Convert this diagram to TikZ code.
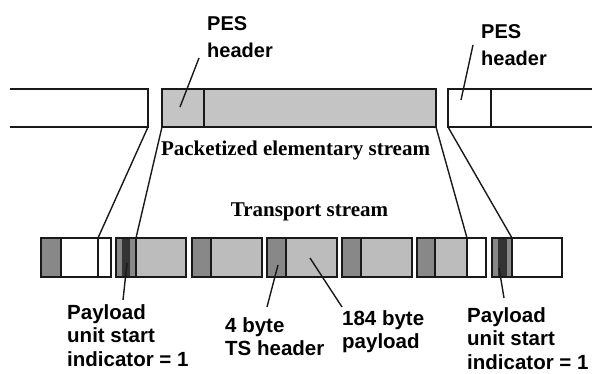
\documentclass[tikz,border=0pt]{standalone}
\usepackage{fontspec}
\setmainfont{Liberation Serif}
\newfontfamily\labfont{Liberation Sans}
\definecolor{pesgray}{HTML}{C4C4C4}
\definecolor{paygray}{HTML}{BCBCBC}
\definecolor{hdrgray}{HTML}{888888}
\definecolor{stripe}{HTML}{333333}
\tikzset{
  outl/.style={draw=black!90, line width=1.8pt},
  divl/.style={draw=black!90, line width=1.6pt},
  conn/.style={draw=black!90, line width=1.4pt},
  lead/.style={draw=black!90, line width=1.4pt},
  lab/.style={font=\labfont\bfseries\fontsize{20.5}{23.5}\selectfont, align=left, inner sep=0pt, anchor=north west},
  plab/.style={font=\labfont\bfseries\fontsize{20}{27}\selectfont, align=left, inner sep=0pt, anchor=north west},
  title/.style={font=\bfseries\fontsize{21}{23}\selectfont, inner sep=0pt, anchor=base}
}
\begin{document}
\begin{tikzpicture}[x=1pt,y=-1pt]
\useasboundingbox (0,0) rectangle (592,374);
% ---------- PES row ----------
\draw[outl] (10,89) -- (148,89) -- (148,127) -- (10,127);
\coordinate (pesLbr) at (148,127);
\fill[pesgray] (162,89) rectangle (436,127);
\draw[outl] (162,89) rectangle (436,127);
\draw[divl] (204,89) -- (204,127);
\coordinate (pesMbl) at (162,127);
\coordinate (pesMbr) at (436,127);
\coordinate (pesMhdr) at (180,107);
\draw[outl] (593,89) -- (448,89) -- (448,127) -- (593,127);
\draw[divl] (491,89) -- (491,127);
\coordinate (pesRbl) at (448,127);
\coordinate (pesRhdr) at (461,100);
% ---------- TS row ----------
\def\ya{238}\def\yb{277}
% packet 1
\fill[hdrgray] (41,\ya) rectangle (61,\yb);
\draw[divl] (61,\ya) -- (61,\yb);
\draw[divl] (98,\ya) -- (98,\yb);
\draw[outl] (41,\ya) rectangle (111,\yb);
\coordinate (p1div) at (98,\ya);
% packet 2
\fill[paygray] (116,\ya) rectangle (186,\yb);
\fill[hdrgray] (116,\ya) rectangle (136,\yb);
\fill[stripe] (122,\ya) rectangle (130,\yb);
\draw[divl] (136,\ya) -- (136,\yb);
\draw[outl] (116,\ya) rectangle (186,\yb);
\coordinate (p2hdr) at (136,\ya);
\coordinate (p2str) at (127,263);
% packets 3-5
\foreach \x/\n in {192/3,267/4,342/5}{
  \fill[paygray] (\x,\ya) rectangle ++(70,39);
  \fill[hdrgray] (\x,\ya) rectangle ++(19,39);
  \draw[divl] (\x+19,\ya) -- (\x+19,\yb);
  \draw[outl] (\x,\ya) rectangle ++(70,39);
}
\coordinate (p4hdr) at (278,265);
\coordinate (p4pay) at (310,258);
% packet 6
\fill[paygray] (417,\ya) rectangle (467,\yb);
\fill[hdrgray] (417,\ya) rectangle (435,\yb);
\draw[divl] (435,\ya) -- (435,\yb);
\draw[divl] (467,\ya) -- (467,\yb);
\draw[outl] (417,\ya) rectangle (486,\yb);
\coordinate (p6div) at (467,\ya);
% packet 7
\fill[hdrgray] (492,\ya) rectangle (512,\yb);
\fill[stripe] (498,\ya) rectangle (507,\yb);
\draw[divl] (512,\ya) -- (512,\yb);
\draw[outl] (492,\ya) rectangle (562,\yb);
\coordinate (p7hdr) at (512,\ya);
\coordinate (p7str) at (499,268);
% ---------- connectors ----------
\draw[conn] (pesLbr) -- (p1div);
\draw[conn] (pesMbl) -- (p2hdr);
\draw[conn] (pesMbr) -- (p6div);
\draw[conn] (pesRbl) -- (p7hdr);
% ---------- titles ----------
\node[title] (pestitle) at (295.5,156) {Packetized elementary stream};
\node[title] (tstitle) at (309.5,217) {Transport stream};
% ---------- labels ----------
\node[plab] (pesL) at (207,16) {PES\\header};
\node[plab] (pesR) at (481,24) {PES\\header};
\node[lab] (pusiL) at (67,304) {Payload\\unit start\\indicator = 1};
\node[lab] (tsh) at (225,317) {4 byte\\TS header};
\node[lab] (pay) at (342,310) {184 byte\\payload};
\node[lab] (pusiR) at (467,307) {Payload\\unit start\\indicator = 1};
% ---------- leaders ----------
\coordinate (lpesL) at (199,58);
\coordinate (lpesR) at (473,45);
\coordinate (lpusiL) at (123,300);
\coordinate (ltsh) at (267,307);
\coordinate (lpay) at (342,307);
\coordinate (lpusiR) at (504,298);
\draw[lead] (lpesL) -- (pesMhdr);
\draw[lead] (lpesR) -- (pesRhdr);
\draw[lead] (p2str) -- (lpusiL);
\draw[lead] (p4hdr) -- (ltsh);
\draw[lead] (p4pay) -- (lpay);
\draw[lead] (p7str) -- (lpusiR);
\end{tikzpicture}
\end{document}
